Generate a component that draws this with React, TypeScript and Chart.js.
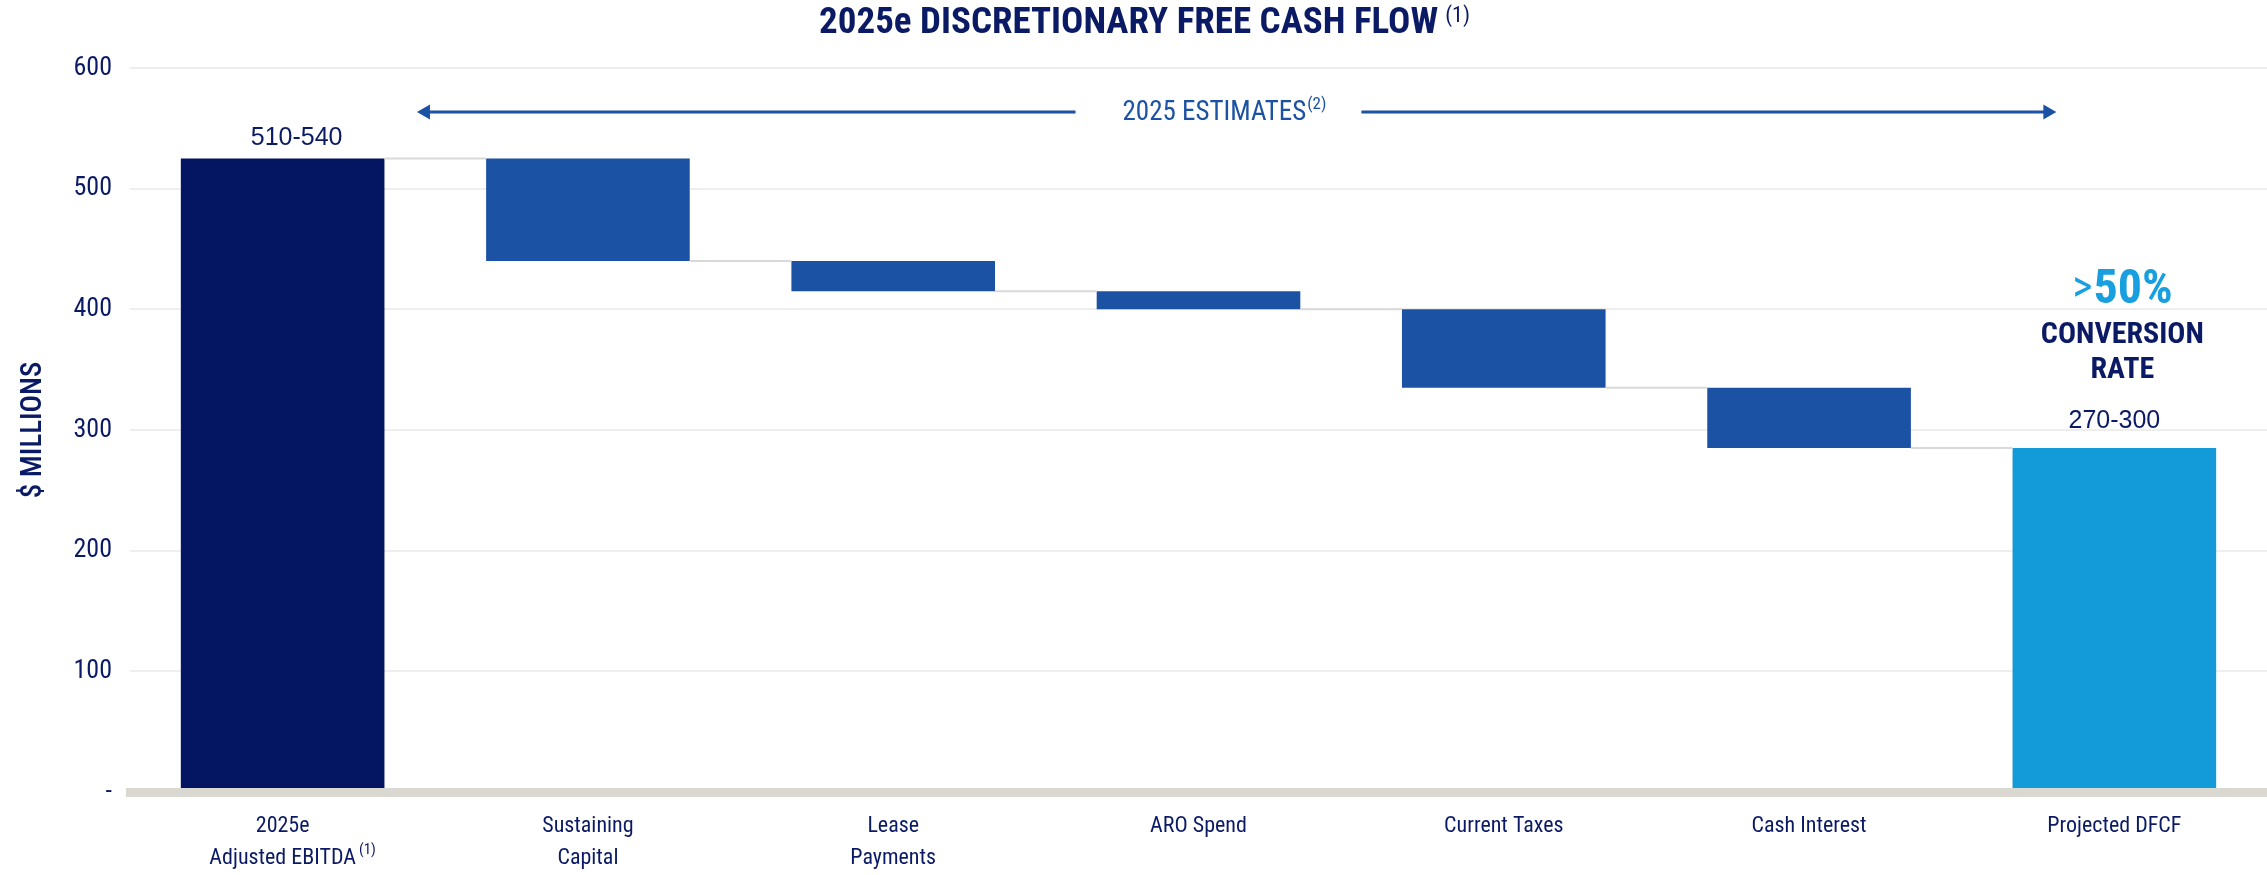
import React, { useEffect, useRef } from 'react';
import { Chart, registerables } from 'chart.js';

Chart.register(...registerables);

// ---------- data ----------
const categories: string[][] = [
  ['2025e', 'Adjusted EBITDA'],
  ['Sustaining', 'Capital'],
  ['Lease', 'Payments'],
  ['ARO Spend'],
  ['Current Taxes'],
  ['Cash Interest'],
  ['Projected DFCF'],
];
const stepValues = [525, -85, -25, -15, -65, -50, 285];
const isTotal = [true, false, false, false, false, false, true];
const rangeLabels = ['510-540', '', '', '', '', '', '270-300'];
const barColors = ['#041562', '#1b52a3', '#1b52a3', '#1b52a3', '#1b52a3', '#1b52a3', '#139ad9'];
const yMin = 0;
const yMax = 600;
const yStep = 100;
const titleText = '2025e DISCRETIONARY FREE CASH FLOW';
const titleNote = '(1)';
const ebitdaNote = '(1)';
const estimateText = '2025 ESTIMATES';
const estimateNote = '(2)';
const calloutPrefix = '>';
const calloutValue = '50%';
const calloutLines = ['CONVERSION', 'RATE'];
const yAxisTitle = '$ MILLIONS';

// ---------- helpers ----------
const NAVY = '#0b1a64';
const MID = '#1b52a3';
const LIGHT = '#179fdf';

function pickFont(cands: string[], fallback: string): string {
  const c = document.createElement('canvas').getContext('2d');
  if (!c) return fallback;
  const sample = 'abcdefghijklmnopqrstuvwxyzMWQ0123456789';
  for (const f of cands) {
    for (const base of ['monospace', 'serif']) {
      c.font = `40px ${base}`;
      const w0 = c.measureText(sample).width;
      c.font = `40px "${f}", ${base}`;
      const w1 = c.measureText(sample).width;
      if (Math.abs(w0 - w1) > 0.5) return f;
    }
  }
  return fallback;
}

export default function App() {
  const ref = useRef<HTMLCanvasElement | null>(null);

  useEffect(() => {
    if (!ref.current) return;
    const cond = pickFont(
      ['Roboto Condensed', 'Noto Sans Condensed', 'Liberation Sans Narrow', 'DejaVu Sans Condensed', 'Open Sans Condensed'],
      'Roboto'
    );
    const plain = 'Liberation Sans';
    const CF = `"${cond}", "Liberation Sans Narrow", Roboto, sans-serif`;

    const ranges: number[][] = [];
    const levels: number[] = [];
    let run = 0;
    stepValues.forEach((v, i) => {
      if (isTotal[i]) {
        ranges.push([0, v]);
        run = v;
      } else {
        ranges.push([run + v, run]);
        run += v;
      }
      levels.push(run);
    });

    const overlay = {
      id: 'overlay',
      afterDatasetsDraw(chart: any) {
        const ctx: CanvasRenderingContext2D = chart.ctx;
        const xs = chart.scales.x;
        const ys = chart.scales.y;
        const meta = chart.getDatasetMeta(0);
        const els = meta.data;
        const cw = xs.getPixelForValue(1) - xs.getPixelForValue(0);
        ctx.save();

        // connectors
        ctx.strokeStyle = '#d9d9d9';
        ctx.lineWidth = 2;
        for (let i = 0; i < els.length - 1; i++) {
          const a = els[i];
          const b = els[i + 1];
          const y = ys.getPixelForValue(levels[i]);
          ctx.beginPath();
          ctx.moveTo(a.x + a.width / 2, y);
          ctx.lineTo(b.x - b.width / 2, y);
          ctx.stroke();
        }

        // range labels
        ctx.fillStyle = NAVY;
        ctx.font = `25px "${plain}", Arial, sans-serif`;
        ctx.textAlign = 'center';
        ctx.textBaseline = 'alphabetic';
        els.forEach((el: any, i: number) => {
          if (!rangeLabels[i]) return;
          const top = ys.getPixelForValue(ranges[i][1]);
          ctx.fillText(rangeLabels[i], el.x + (i === 0 ? 14 : 0), top - (i === 0 ? 14 : 20));
        });

        // title
        ctx.font = `bold 37px ${CF}`;
        const tw = ctx.measureText(titleText).width;
        ctx.font = `22px ${CF}`;
        const nw = ctx.measureText(titleNote).width;
        const total = tw + 7 + nw;
        const tx = chart.width / 2 + 11 - total / 2;
        ctx.textAlign = 'left';
        ctx.fillStyle = NAVY;
        ctx.font = `bold 37px ${CF}`;
        ctx.fillText(titleText, tx, 33);
        ctx.font = `22px ${CF}`;
        ctx.fillText(titleNote, tx + tw + 7, 22);

        // estimates arrow
        const ay = 112;
        const leftTip = xs.getPixelForValue(0) + 0.44 * cw;
        const rightTip = xs.getPixelForValue(5) + 0.81 * cw;
        const textCx = xs.getPixelForValue(3) + 0.085 * cw;
        ctx.font = `27px ${CF}`;
        const ew = ctx.measureText(estimateText).width;
        ctx.font = `17px ${CF}`;
        const enw = ctx.measureText(estimateNote).width;
        const etot = ew + 1 + enw;
        const ex = textCx - etot / 2;
        ctx.fillStyle = MID;
        ctx.textBaseline = 'middle';
        ctx.font = `27px ${CF}`;
        ctx.fillText(estimateText, ex, ay + 1);
        ctx.font = `17px ${CF}`;
        ctx.fillText(estimateNote, ex + ew + 1, ay - 7);
        ctx.strokeStyle = MID;
        ctx.lineWidth = 3;
        ctx.beginPath();
        ctx.moveTo(leftTip + 6, ay);
        ctx.lineTo(ex - 47, ay);
        ctx.moveTo(ex + etot + 35, ay);
        ctx.lineTo(rightTip - 6, ay);
        ctx.stroke();
        ctx.beginPath();
        ctx.moveTo(leftTip, ay);
        ctx.lineTo(leftTip + 13, ay - 7.5);
        ctx.lineTo(leftTip + 13, ay + 7.5);
        ctx.closePath();
        ctx.moveTo(rightTip, ay);
        ctx.lineTo(rightTip - 13, ay - 7.5);
        ctx.lineTo(rightTip - 13, ay + 7.5);
        ctx.closePath();
        ctx.fillStyle = MID;
        ctx.fill();

        // callout
        const last = els[els.length - 1];
        const cx = last.x + 8;
        ctx.textBaseline = 'alphabetic';
        ctx.fillStyle = LIGHT;
        ctx.font = `44px ${CF}`;
        const pw = ctx.measureText(calloutPrefix).width;
        ctx.font = `bold 48px ${CF}`;
        const vw = ctx.measureText(calloutValue).width;
        const cStart = cx - (pw + 1 + vw) / 2;
        ctx.textAlign = 'left';
        ctx.font = `44px ${CF}`;
        ctx.fillText(calloutPrefix, cStart, 301);
        ctx.font = `bold 48px ${CF}`;
        ctx.fillText(calloutValue, cStart + pw + 1, 303);
        ctx.textAlign = 'center';
        ctx.fillStyle = NAVY;
        ctx.font = `bold 30px ${CF}`;
        ctx.fillText(calloutLines[0], cx, 343);
        ctx.fillText(calloutLines[1], cx, 378);

        // superscript on first x label
        ctx.font = `22px ${CF}`;
        const lw = ctx.measureText(categories[0][1]).width;
        ctx.font = `15px ${CF}`;
        ctx.textAlign = 'left';
        ctx.textBaseline = 'middle';
        ctx.fillText(ebitdaNote, els[0].x + lw / 2 + 3, 850);

        ctx.restore();
      },
    };

    const chart = new Chart(ref.current, {
      type: 'bar',
      data: {
        labels: categories,
        datasets: [
          {
            data: ranges as any,
            backgroundColor: barColors,
            borderWidth: 0,
            borderSkipped: false,
            categoryPercentage: 1,
            barPercentage: 0.667,
          },
        ],
      },
      options: {
        responsive: false,
        devicePixelRatio: 1,
        animation: false,
        layout: { padding: { top: 68, left: 0, right: 0, bottom: 0 } },
        plugins: {
          legend: { display: false },
          tooltip: { enabled: false },
          title: { display: false },
        },
        scales: {
          x: {
            grid: { display: false, drawTicks: false },
            border: { display: true, color: '#d9d9d2', width: 9, z: 1 },
            ticks: {
              color: NAVY,
              padding: 19,
              maxRotation: 0,
              autoSkip: false,
              font: { family: CF, size: 22, lineHeight: 1.45 },
            },
            afterFit: (s: any) => {
              s.height = 83;
            },
          },
          y: {
            min: yMin,
            max: yMax,
            grid: { color: '#eeeeee', lineWidth: 2, drawTicks: false },
            border: { display: false },
            ticks: {
              stepSize: yStep,
              color: NAVY,
              padding: 18,
              font: { family: CF, size: 26 },
              callback: (v: any) => (Number(v) === 0 ? '-' : String(v)),
            },
            title: {
              display: true,
              text: yAxisTitle,
              color: NAVY,
              font: { family: CF, size: 29, weight: '500' },
              padding: { top: 16, bottom: 0 },
            },
            afterFit: (s: any) => {
              s.width = 130;
            },
          },
        },
      },
      plugins: [overlay],
    });
    return () => chart.destroy();
  }, []);

  return (
    <div style={{ position: 'absolute', left: 0, top: 0, width: 2267, height: 875, background: '#ffffff' }}>
      <canvas ref={ref} width={2267} height={875} style={{ width: 2267, height: 875, display: 'block' }} />
    </div>
  );
}
